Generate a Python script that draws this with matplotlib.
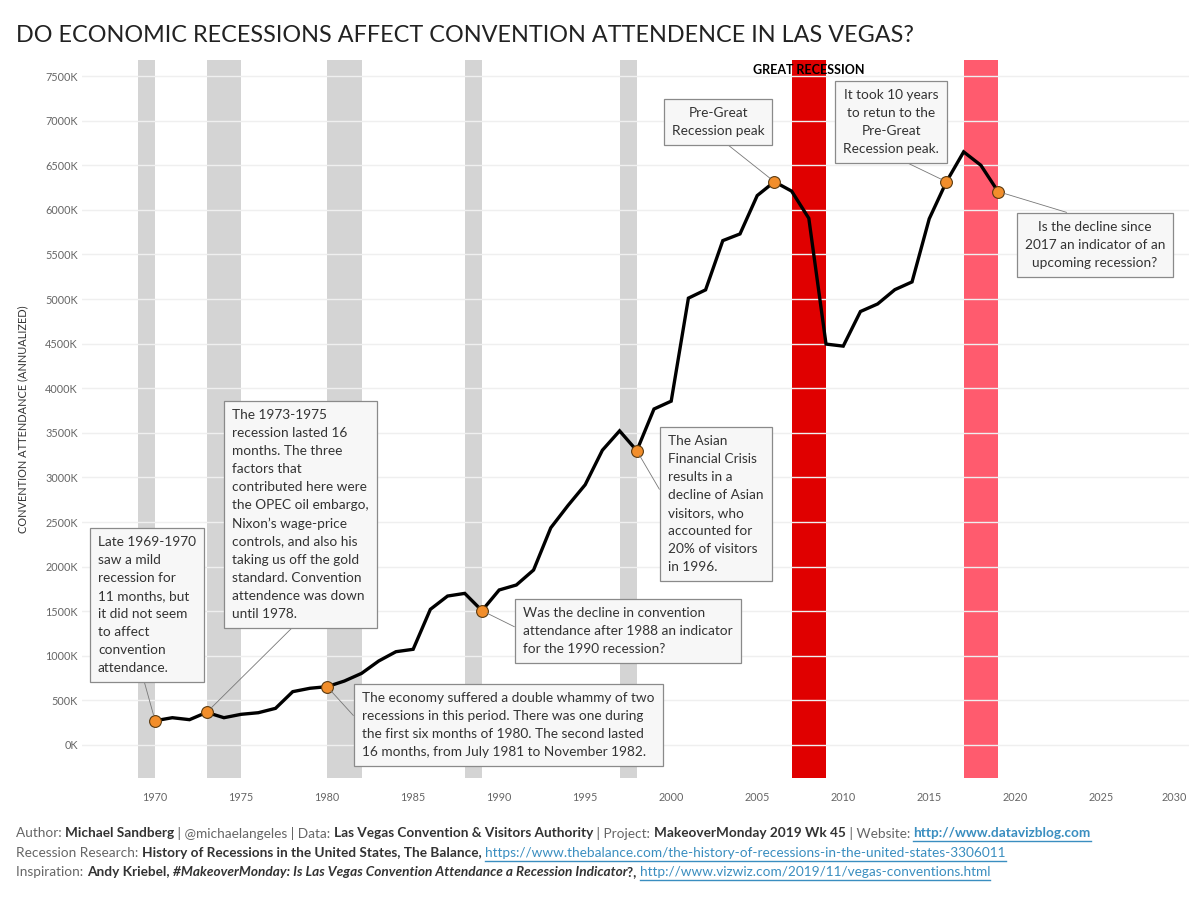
import matplotlib
matplotlib.use("Agg")
import matplotlib.pyplot as plt
from matplotlib.lines import Line2D
from matplotlib.ticker import FuncFormatter

plt.rcParams['font.family'] = ['Lato', 'DejaVu Sans']

# ---------------- data ----------------
years = list(range(1970, 2020))
attendance_k = [272, 306, 284, 366, 306, 344, 362, 411, 598, 636,
                654, 717, 803, 942, 1046, 1073, 1521, 1670, 1700, 1506,
                1738, 1794, 1962, 2435, 2685, 2918, 3305, 3522, 3300, 3767,
                3855, 5010, 5103, 5655, 5730, 6160, 6315, 6210, 5905, 4495,
                4472, 4860, 4945, 5105, 5192, 5900, 6315, 6650, 6500, 6205]
highlight_years = [1970, 1973, 1980, 1989, 1998, 2006, 2016, 2019]

recessions_gray = [(1969, 1970), (1973, 1975), (1980, 1982), (1988, 1989), (1997, 1998)]
great_recession = (2007, 2009)
upcoming = (2017, 2019)

yticks_k = list(range(0, 7501, 500))
xticks = list(range(1970, 2031, 5))

title = "DO ECONOMIC RECESSIONS AFFECT CONVENTION ATTENDENCE IN LAS VEGAS?"
ylabel = "CONVENTION ATTENDANCE (ANNUALIZED)"

# annotations: (year, text, text anchor px (left/center x, top y), align, relpos)
annotations = [
    (1970, "Late 1969-1970\nsaw a mild\nrecession for\n11 months, but\nit did not seem\nto affect\nconvention\nattendance.",
     (98, 536), 'left', (0.45, 0.0)),
    (1973, "The 1973-1975\nrecession lasted 16\nmonths. The three\nfactors that\ncontributed here were\nthe OPEC oil embargo,\nNixon\u2019s wage-price\ncontrols, and also his\ntaking us off the gold\nstandard. Convention\nattendence was down\nuntil 1978.",
     (232, 409), 'left', (0.5, 0.0)),
    (1980, "The economy suffered a double whammy of two\nrecessions in this period. There was one during\nthe first six months of 1980. The second lasted\n16 months, from July 1981 to November 1982.",
     (362, 692), 'left', (0.0, 0.5)),
    (1989, "Was the decline in convention\nattendance after 1988 an indicator\nfor the 1990 recession?",
     (523, 607), 'left', (0.0, 0.5)),
    (1998, "The Asian\nFinancial Crisis\nresults in a\ndecline of Asian\nvisitors, who\naccounted for\n20% of visitors\nin 1996.",
     (668, 435), 'left', (0.0, 0.5)),
    (2006, "Pre-Great\nRecession peak",
     (718, 107), 'center', (0.5, 0.0)),
    (2016, "It took 10 years\nto retun to the\nPre-Great\nRecession peak.",
     (891, 89), 'center', (0.5, 0.0)),
    (2019, "Is the decline since\n2017 an indicator of an\nupcoming recession?",
     (1095, 221), 'center', (0.5, 1.0)),
]

# ---------------- figure ----------------
W, H = 1199, 899
fig = plt.figure(figsize=(W / 100, H / 100), dpi=100)
L, R, T, B = 82, 1189, 60, 778
ax = fig.add_axes([L / W, 1 - B / H, (R - L) / W, (B - T) / H])


def px2ax(x, y):
    return ((x - L) / (R - L), (B - y) / (B - T))


for a, b in recessions_gray:
    ax.axvspan(a, b, color='#d4d4d4', lw=0, zorder=0.1)
ax.axvspan(*great_recession, color='#e00000', lw=0, zorder=0.1)
ax.axvspan(*upcoming, color='#ff5b6e', lw=0, zorder=0.1)

ax.set_axisbelow(True)
ax.yaxis.grid(True, color='#efefef', lw=1.0)
ax.xaxis.grid(False)

ax.plot(years, attendance_k, color='black', lw=2.4, zorder=3, solid_joinstyle='miter')
hv = [attendance_k[years.index(y)] for y in highlight_years]
ax.plot(highlight_years, hv, 'o', ms=8.5, mfc='#f28e2b', mec='#5a3a10', mew=0.8, zorder=4)

ax.set_xlim(1965.75, 2030.1)
ax.set_ylim(-370, 7680)
ax.set_yticks(yticks_k)
ax.yaxis.set_major_formatter(FuncFormatter(lambda v, p: f"{int(v)}K"))
ax.set_xticks(xticks)
ax.set_xticklabels([str(x) for x in xticks])
lbls = ax.get_xticklabels()
lbls[-1].set_horizontalalignment('right')
ax.tick_params(axis='both', length=0, labelsize=7.8, labelcolor='#666666')
ax.tick_params(axis='x', pad=10)
ax.tick_params(axis='y', pad=3)
for s in ax.spines.values():
    s.set_visible(False)

ax.set_ylabel(ylabel, fontsize=7.9, color='#333333', labelpad=10)
ax.yaxis.set_label_coords(px2ax(28, 0)[0], 0.5)

# Great recession label
ax.text(sum(great_recession) / 2, 1.0 - 10 / (B - T), "GREAT RECESSION", transform=ax.get_xaxis_transform(),
        ha='center', va='center', fontsize=9, fontweight='bold', color='black', zorder=5)

for yr, txt, (px, py), align, relpos in annotations:
    val = attendance_k[years.index(yr)]
    ax.annotate(txt, xy=(yr, val), xycoords='data', xytext=px2ax(px, py), textcoords='axes fraction',
                ha=align, va='top', multialignment=align, fontsize=9.8, color='#333333', linespacing=1.6,
                bbox=dict(boxstyle='square,pad=0.6', fc='#f7f7f7', ec='#8a8a8a', lw=0.9),
                arrowprops=dict(arrowstyle='-', color='#777777', lw=0.6, relpos=relpos,
                                shrinkA=0, shrinkB=4),
                zorder=6)

fig.text(16 / W, 1 - 36 / H, title, fontsize=16.8, color='#222222', ha='left', va='center')

# ---------------- footer ----------------
renderer = fig.canvas.get_renderer()
c_norm, c_bold, c_link = '#666666', '#333333', '#3a8ec0'
footer = [
    [("Author: ", 'normal', 'normal', c_norm, False), ("Michael Sandberg", 'bold', 'normal', c_bold, False),
     (" | @michaelangeles | Data: ", 'normal', 'normal', c_norm, False),
     ("Las Vegas Convention & Visitors Authority", 'bold', 'normal', c_bold, False),
     (" | Project: ", 'normal', 'normal', c_norm, False), ("MakeoverMonday 2019 Wk 45", 'bold', 'normal', c_bold, False),
     (" | Website: ", 'normal', 'normal', c_norm, False), ("http://www.datavizblog.com", 'bold', 'normal', c_link, True)],
    [("Recession Research: ", 'normal', 'normal', c_norm, False),
     ("History of Recessions in the United States, The Balance,", 'bold', 'normal', c_bold, False),
     (" ", 'normal', 'normal', c_norm, False),
     ("https://www.thebalance.com/the-history-of-recessions-in-the-united-states-3306011", 'normal', 'normal', c_link, True)],
    [("Inspiration: ", 'normal', 'normal', c_norm, False), ("Andy Kriebel, ", 'bold', 'normal', c_bold, False),
     ("#MakeoverMonday: Is Las Vegas Convention Attendance a Recession Indicator", 'bold', 'italic', c_bold, False),
     ("?, ", 'bold', 'normal', c_bold, False),
     ("http://www.vizwiz.com/2019/11/vegas-conventions.html", 'normal', 'normal', c_link, True)],
]
line_y = [833, 853, 872]
for pieces, yy in zip(footer, line_y):
    x = 16.0
    for txt, wt, st, col, link in pieces:
        t = fig.text(x / W, 1 - yy / H, txt, fontsize=9.8, fontweight=wt, fontstyle=st, color=col,
                     ha='left', va='center')
        bb = t.get_window_extent(renderer)
        w = bb.width
        if link:
            uy = 1 - (yy + 8) / H
            fig.add_artist(Line2D([x / W, (x + w) / W], [uy, uy], color=col, lw=1.0))
        x += w

fig.savefig("out.png", dpi=100)
